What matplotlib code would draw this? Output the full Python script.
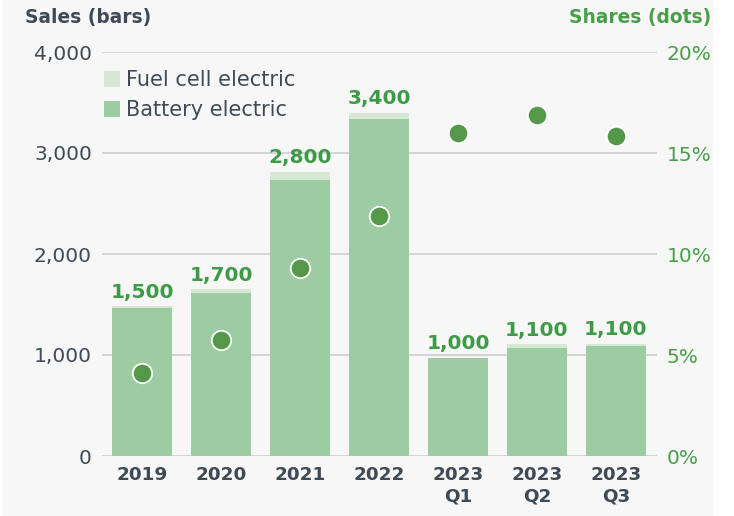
import matplotlib.pyplot as plt
from matplotlib.patches import Rectangle

categories = ["2019", "2020", "2021", "2022", "2023\nQ1", "2023\nQ2", "2023\nQ3"]
battery = [1468, 1617, 2733, 3337, 968, 1069, 1089]
fuel_cell = [17, 36, 82, 62, 5, 37, 23]
total_labels = ["1,500", "1,700", "2,800", "3,400", "1,000", "1,100", "1,100"]
shares = [4.1, 5.75, 9.3, 11.9, 16.0, 16.9, 15.85]

plt.rcParams['font.family'] = ['DejaVu Sans']

DARK = "#3f4a55"
GREEN = "#3d9a47"
BATT = "#9ecca2"
FUEL = "#d6e8d4"
DOT = "#55984a"

fig = plt.figure(figsize=(7.34, 5.16), dpi=100, facecolor="white")
fig.patches.append(Rectangle((2 / 734, 0), 711 / 734, 1, transform=fig.transFigure,
                             facecolor="#f7f7f7", edgecolor="none", zorder=-10))

ax = fig.add_axes([102 / 734, 60 / 516, 555 / 734, 404 / 516])
ax.patch.set_alpha(0)
x = list(range(len(categories)))

ax.bar(x, battery, width=0.76, color=BATT, zorder=2, label="Battery electric")
ax.bar(x, fuel_cell, width=0.76, bottom=battery, color=FUEL, zorder=2, label="Fuel cell electric")
for xi, b, f, lab in zip(x, battery, fuel_cell, total_labels):
    ax.annotate(lab, (xi, b + f), xytext=(0, 6), textcoords="offset points",
                ha="center", va="baseline", color=GREEN, fontsize=14.5, fontweight="bold")

ax.set_xlim(-0.506, 6.52)
ax.set_ylim(0, 4000)
ax.set_yticks([0, 1000, 2000, 3000, 4000])
ax.set_yticklabels(["0", "1,000", "2,000", "3,000", "4,000"])
ax.grid(axis="y", color="#d2d2d2", linewidth=1.3, zorder=1)
ax.set_xticks(x)
ax.set_xticklabels(categories, fontweight="bold", fontsize=13.2, color=DARK, linespacing=1.3)
ax.tick_params(axis="y", length=0, pad=7.3, labelsize=14.5, labelcolor=DARK)
ax.tick_params(axis="x", length=0, pad=7)
for s in ax.spines.values():
    s.set_visible(False)

ax2 = ax.twinx()
ax2.set_ylim(0, 20)
ax2.set_yticks([0, 5, 10, 15, 20])
ax2.set_yticklabels(["0%", "5%", "10%", "15%", "20%"])
ax2.tick_params(axis="y", length=0, pad=7, labelsize=14.5, labelcolor="#4a9e4a")
for s in ax2.spines.values():
    s.set_visible(False)
ax2.plot(x, shares, linestyle="none", marker="o", markersize=14, color=DOT,
         markeredgecolor="white", markeredgewidth=1.3, zorder=5)

handles, labels = ax.get_legend_handles_labels()
leg = ax.legend(handles[::-1], labels[::-1], loc="upper left",
                bbox_to_anchor=(104 / 734, 1 - 70 / 516), bbox_transform=fig.transFigure,
                frameon=False, fontsize=15, labelcolor=DARK, handlelength=0.77,
                handleheight=0.77, handletextpad=0.27, labelspacing=0.48,
                borderpad=0, borderaxespad=0)

fig.text(25 / 734, 1 - 18 / 516, "Sales (bars)", ha="left", va="center",
         fontsize=13.4, fontweight="bold", color=DARK)
fig.text(711 / 734, 1 - 18 / 516, "Shares (dots)", ha="right", va="center",
         fontsize=13.4, fontweight="bold", color="#4a9e4a")

fig.savefig("out.png", dpi=100, facecolor=fig.get_facecolor())
